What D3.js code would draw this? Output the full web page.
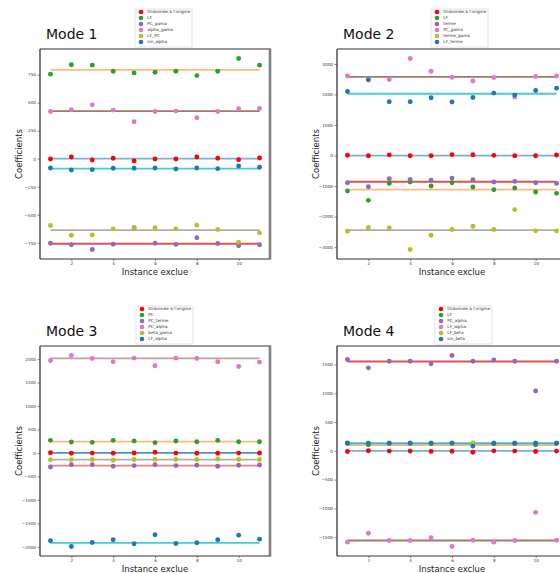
<!DOCTYPE html>
<html><head><meta charset="utf-8">
<script src="https://cdn.jsdelivr.net/npm/d3@7"></script>
<style>body{margin:0;background:#fff}svg{display:block;font-family:"DejaVu Sans",sans-serif}</style>
</head><body><svg id="c" width="560" height="573"></svg>
<script>
const instances = [1,2,3,4,5,6,7,8,9,10,11];
const xTicks = [2,4,6,8,10];

// Mode 1
const m1Names = ["Ordonnée à l'origine","LF","PC_gama","alpha_gama","LF_PC","sin_alpha"];
const m1_ordonnee = [-3,15,-12,3,-20,-3,-3,15,3,-9,6];
const m1_LF = [754,837,834,780,765,771,780,741,780,893,834];
const m1_PC_gama = [-754,-768,-810,-763,-617,-754,-765,-706,-757,-777,-768];
const m1_alpha_gama = [421,436,480,433,329,421,424,365,421,445,448];
const m1_LF_PC = [-596,-683,-680,-626,-617,-617,-626,-593,-632,-745,-662];
const m1_sin_alpha = [-83,-101,-98,-86,-86,-83,-92,-83,-89,-65,-77];
const m1Ref = [0,792,-759,424,-638,-89];
const m1Ticks = [-750,-500,-250,0,250,500,750];

// Mode 2
const m2Names = ["Ordonnée à l'origine","LF","terme","PC_gama","terme_gama","LF_terme"];
const m2_ordonnee = [10,-5,20,-5,-5,30,25,5,-5,-5,15];
const m2_LF = [-1163,-1467,-912,-869,-999,-890,-1032,-1119,-1065,-1195,-1239];
const m2_terme = [-890,-1020,-760,-782,-804,-739,-793,-869,-847,-890,-912];
const m2_PC_gama = [2603,2478,2490,3175,2761,2565,2442,2555,1912,2587,2603];
const m2_terme_gama = [-2477,-2357,-2368,-3075,-2608,-2423,-2314,-2423,-1771,-2466,-2466];
const m2_LF_terme = [2098,2478,1761,1761,1891,1750,1902,2043,1978,2131,2206];
const m2Ref = [0,-1119,-858,2576,-2445,2022];
const m2Ticks = [-3000,-2000,-1000,0,1000,2000,3000];

// Mode 3
const m3Names = ["Ordonnée à l'origine","PC","PC_terme","PC_alpha","beta_gama","LF_alpha"];
const m3_ordonnee = [5,-5,-3,-5,0,15,-3,-5,-5,-3,0];
const m3_PC = [268,234,226,268,255,219,255,240,268,240,240];
const m3_PC_terme = [-298,-249,-249,-284,-270,-249,-270,-263,-284,-263,-256];
const m3_PC_alpha = [1970,2076,2013,1943,2021,1858,2021,2013,1943,1844,1936];
const m3_beta_gama = [-143,-143,-140,-157,-140,-135,-140,-140,-130,-138,-140];
const m3_LF_alpha = [-1872,-1993,-1908,-1851,-1936,-1745,-1929,-1915,-1851,-1752,-1837];
const m3Ref = [0,240,-270,2015,-142,-1915];
const m3Ticks = [-2000,-1500,-1000,-500,0,500,1000,1500,2000];

// Mode 4
const m4Names = ["Ordonnée à l'origine","LF","PC_alpha","LF_alpha","LF_beta","sin_beta"];
const m4_ordonnee = [-12,2,-5,-5,-10,-8,-25,0,-5,-12,-5];
const m4_LF = [130,105,128,128,125,130,131,125,128,105,128];
const m4_PC_alpha = [1586,1441,1557,1557,1511,1655,1557,1580,1557,1040,1557];
const m4_LF_alpha = [-1586,-1431,-1558,-1558,-1511,-1661,-1552,-1586,-1558,-1069,-1552];
const m4_LF_beta = [140,136,136,136,136,136,136,136,136,136,136];
const m4_sin_beta = [132,130,133,133,133,134,82,132,132,131,133];
const m4Ref = [0,100,1552,-1558,130,130];
const m4Ticks = [-1500,-1000,-500,0,500,1000,1500];

const pointColors = ["#ff0000","#2ca02c","#9467bd","#e377c2","#bcbd22","#1f77b4"];
const lineColorsA = ["#5a9bd0","#ffa85c","#d62728","#8c564b","#9a9a9a","#17becf"];
const lineColorsC = ["#1f77b4","#ffa85c","#e06666","#b08a8a","#9a9a9a","#17becf"];

const panels = [
  {title:"Mode 1", names:m1Names, series:[m1_ordonnee,m1_LF,m1_PC_gama,m1_alpha_gama,m1_LF_PC,m1_sin_alpha], ref:m1Ref, ticks:m1Ticks, lc:lineColorsA, x0:40, y0:49, lg:95},
  {title:"Mode 2", names:m2Names, series:[m2_ordonnee,m2_LF,m2_terme,m2_PC_gama,m2_terme_gama,m2_LF_terme], ref:m2Ref, ticks:m2Ticks, lc:lineColorsA, x0:337, y0:49, lg:94},
  {title:"Mode 3", names:m3Names, series:[m3_ordonnee,m3_PC,m3_PC_terme,m3_PC_alpha,m3_beta_gama,m3_LF_alpha], ref:m3Ref, ticks:m3Ticks, lc:lineColorsC, x0:40, y0:346, lg:96},
  {title:"Mode 4", names:m4Names, series:[m4_ordonnee,m4_LF,m4_PC_alpha,m4_LF_alpha,m4_LF_beta,m4_sin_beta], ref:m4Ref, ticks:m4Ticks, lc:lineColorsA, x0:337, y0:346, lg:98}
];

const W = 230, H = 210;
const svg = d3.select("#c");
const fmt = v => d3.format("d")(v).replace("-", "\u2212");

panels.forEach(p => {
  const g = svg.append("g").attr("transform", `translate(${p.x0},${p.y0})`);
  const all = p.series.flat();
  const [mn, mx] = d3.extent(all);
  const pad = (mx - mn) * 0.05;
  const x = d3.scaleLinear().domain([0.5, 11.5]).range([0, W]);
  const y = d3.scaleLinear().domain([mn - pad, mx + pad]).range([H, 0]);

  // reference lines
  p.ref.forEach((v, i) => {
    g.append("line").attr("x1", x(1)).attr("x2", x(11)).attr("y1", y(v)).attr("y2", y(v))
      .attr("stroke", p.lc[i]).attr("stroke-width", 1.8).attr("stroke-opacity", 0.8);
  });
  // points
  p.series.forEach((s, i) => {
    g.selectAll(null).data(s).enter().append("circle")
      .attr("cx", (d, j) => x(instances[j])).attr("cy", d => y(d)).attr("r", 2.45)
      .attr("fill", pointColors[i]);
  });

  // axes
  const ya = d3.axisLeft(y).tickValues(p.ticks).tickSize(2.5).tickPadding(1.5).tickFormat(fmt);
  const xa = d3.axisBottom(x).tickValues(xTicks).tickSize(2).tickPadding(1).tickFormat(d3.format("d"));
  const yg = g.append("g").call(ya);
  const xg = g.append("g").attr("transform", `translate(0,${H})`).call(xa);
  [yg, xg].forEach(a => {
    a.select(".domain").remove();
    a.selectAll("text").attr("font-size", 4.2).attr("fill", "#333").attr("font-family", "DejaVu Sans");
    a.selectAll("line").attr("stroke", "#333").attr("stroke-width", 0.6);
  });

  // frame
  g.append("line").attr("x1", 0).attr("x2", W).attr("y1", 0).attr("y2", 0).attr("stroke", "#333").attr("stroke-width", 1.2);
  g.append("line").attr("x1", 0).attr("x2", W).attr("y1", H).attr("y2", H).attr("stroke", "#333").attr("stroke-width", 1.2);
  g.append("line").attr("x1", 0).attr("x2", 0).attr("y1", 0).attr("y2", H).attr("stroke", "#444").attr("stroke-width", 1.4);
  g.append("line").attr("x1", W).attr("x2", W).attr("y1", -0.6).attr("y2", H + 0.6).attr("stroke", "#808080").attr("stroke-width", 2.6);

  // labels
  g.append("text").attr("x", 6).attr("y", -10).attr("font-size", 14).attr("fill", "#111").text(p.title);
  g.append("text").attr("x", W / 2).attr("y", H + 16).attr("text-anchor", "middle").attr("font-size", 8.5).attr("fill", "#222").text("Instance exclue");
  g.append("text").attr("transform", `translate(-18.5,${H / 2}) rotate(-90)`).attr("text-anchor", "middle")
    .attr("font-size", 8.5).attr("fill", "#222").text("Coefficients");

  // legend
  const lg = g.append("g").attr("transform", `translate(${p.lg},-40)`);
  lg.append("rect").attr("x", 0).attr("y", 0).attr("width", 57).attr("height", 38).attr("rx", 1)
    .attr("fill", "#fff").attr("stroke", "#d0d0d0").attr("stroke-width", 0.6);
  p.names.forEach((n, i) => {
    const yy = 3 + i * 6;
    lg.append("circle").attr("cx", 6).attr("cy", yy).attr("r", 2.3).attr("fill", pointColors[i]);
    lg.append("text").attr("x", 12.3).attr("y", yy + 1.4).attr("font-size", 4.2).attr("fill", "#333").text(n);
  });
});
</script></body></html>
